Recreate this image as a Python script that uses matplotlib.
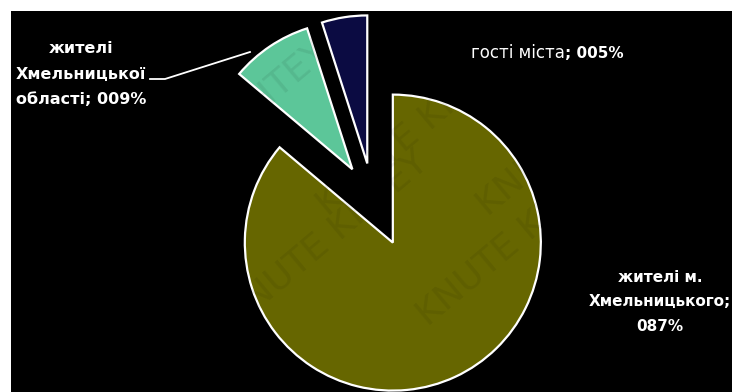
import matplotlib
matplotlib.use("Agg")
import matplotlib.pyplot as plt
from matplotlib.patches import Rectangle

# Audience shares
categories = ["жителі м. Хмельницького", "жителі Хмельницької області", "гості міста"]
shares = [87, 9, 5]
colors = ["#666600", "#5cc699", "#0b0b42"]

W, H = 732, 392
fig = plt.figure(figsize=(W / 100, H / 100), dpi=100)
fig.patch.set_facecolor("white")
ax = fig.add_axes([0, 0, 1, 1])

# dark chart area
ax.add_patch(Rectangle((11, 0), W - 11, H - 11, facecolor="black", edgecolor="none", zorder=0))

wedges, _ = ax.pie(
    shares,
    colors=colors,
    startangle=90,
    counterclock=False,
    radius=148,
    center=(373, 192),
    explode=[47, 37, 37],
    wedgeprops=dict(edgecolor="white", linewidth=1.6),
    frame=True,
)
ax.set_xlim(0, W)
ax.set_ylim(0, H)
ax.set_aspect("equal")
ax.axis("off")
for w in wedges:
    w.set_zorder(2)

bold = dict(color="white", fontweight="bold", family="DejaVu Sans", zorder=5)

# region label with leader line
ax.text(81, H - 74, "жителі\nХмельницької\nобласті; %03d%%" % shares[1],
        ha="center", va="center", fontsize=11.5, linespacing=1.85, **bold)
ax.plot([150, 165, 250], [H - 79, H - 79, H - 52], color="white", lw=1.3, zorder=4)

# guests label: plain name, bold value
ax.text(565, H - 53, "гості міста", ha="right", va="center", fontsize=12,
        color="white", family="DejaVu Sans", zorder=5)
ax.text(565, H - 53, "; %03d%%" % shares[2], ha="left", va="center", fontsize=11, **bold)

# city residents label
ax.text(660, H - 302, "жителі м.\nХмельницького;\n%03d%%" % shares[0],
        ha="center", va="center", fontsize=11, linespacing=1.8, **bold)

# faint diagonal watermark
for x, y in [(30, 60), (220, 60), (410, 60), (120, 170), (310, 170), (470, 170)]:
    ax.text(x, y, "KNUTE KHTEY", rotation=40, fontsize=26, color="black", alpha=0.07,
            ha="left", va="bottom", zorder=8, family="DejaVu Sans")

fig.savefig("out.png", dpi=100, facecolor=fig.get_facecolor())
